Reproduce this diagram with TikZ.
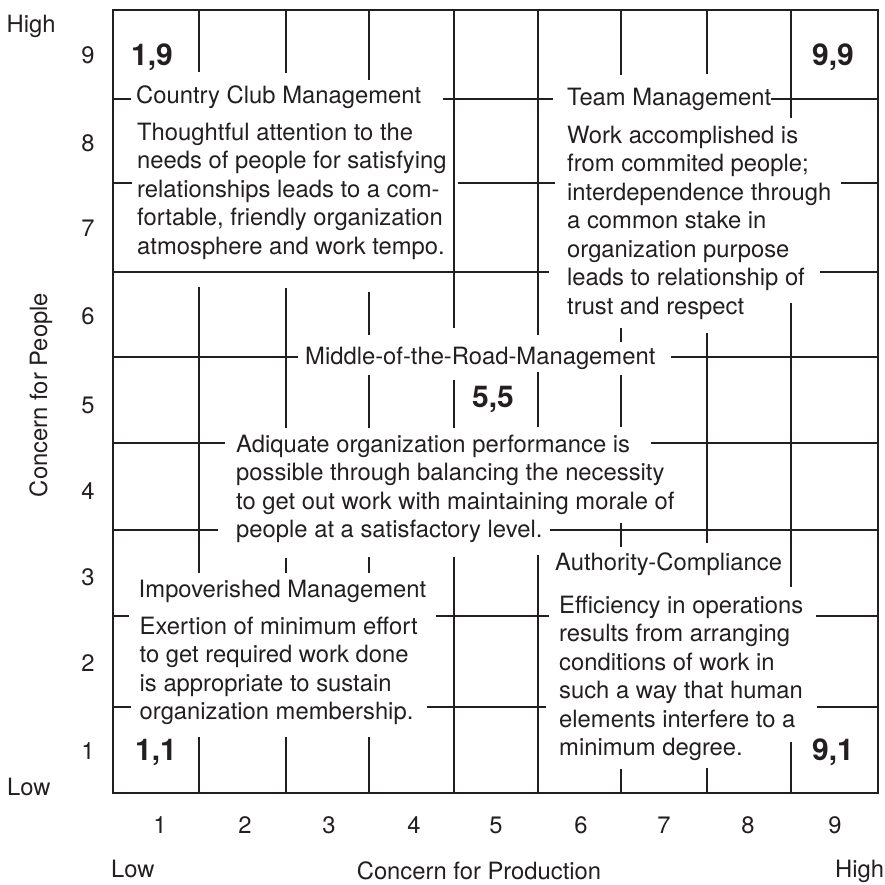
\documentclass[tikz,border=0pt]{standalone}
\usepackage{fontspec}
\setmainfont{TeX Gyre Heros}
\definecolor{ink}{HTML}{231F20}
\newcommand\blk[1]{\vtop{\baselineskip=28.5pt\lineskiplimit=-100pt\lineskip=0pt\relax #1}}
\begin{document}
\begin{tikzpicture}[x=1pt,y=-1pt,
  gridline/.style={draw=ink,line width=1.3pt},
  txt/.style={inner sep=0pt,anchor=base west,text=ink,font=\fontsize{23.8}{28.5}\selectfont},
  big/.style={inner sep=0pt,anchor=base west,text=ink,font=\fontsize{30}{36}\selectfont\bfseries},
  num/.style={inner sep=0pt,anchor=base,text=ink,font=\fontsize{23.8}{28.5}\selectfont}]
\useasboundingbox (0,0) rectangle (885,884);
% frame
\draw[gridline] (113,10) rectangle (878,793);
% vertical segments
\foreach \x/\a/\b in {199/10/72, 199/287/573, 199/737/793,
  286/10/73, 286/288/428, 286/558/573, 286/737/793,
  369/10/80, 369/292/335, 369/375/428, 369/557/573, 369/737/793,
  454/10/328, 454/380/428, 454/557/793,
  538/10/335, 538/372/427, 538/555/793,
  621/10/75, 621/328/342, 621/375/427, 621/523/547, 621/769/793,
  707/10/74, 707/333/543, 707/768/793,
  791/10/118, 791/303/587, 791/742/793}
  \draw[gridline] (\x,\a) -- (\x,\b);
% horizontal segments
\foreach \y/\a/\b in {99/113/131, 99/443/553, 99/771/878,
  183/113/132, 183/458/555, 183/841/878,
  272/113/549, 272/820/878,
  357/113/298, 357/671/878,
  443/113/225, 443/651/878,
  530/113/218, 530/550/878,
  616/113/129, 616/436/549, 616/816/878,
  707/113/131, 707/427/546, 707/817/878}
  \draw[gridline] (\a,\y) -- (\b,\y);
% corner labels
\node[big] (c19) at (131,65) {1,9};
\node[big] (c99) at (812,65) {9,9};
\node[big] (c11) at (135,760) {1,1};
\node[big] (c91) at (812,760) {9,1};
\node[big] (c55) at (472,407) {5,5};
% style titles and texts
\node[txt] (cct) at (136,103) {Country Club Management};
\node[txt] (ccb) at (137,140) {\blk{\hbox{Thoughtful attention to the}\hbox{needs of people for satisfying}\hbox{relationships leads to a com-}\hbox{fortable, friendly organization}\hbox{atmosphere and work tempo.}}};
\node[txt] (tmt) at (567,105) {Team Management};
\node[txt] (tmb) at (567,143) {\blk{\hbox{Work accomplished is}\hbox{from commited people;}\hbox{interdependence through}\hbox{a common stake in}\hbox{organization purpose}\hbox{leads to relationship of}\hbox{trust and respect}}};
\node[txt] (mrt) at (305,364) {Middle-of-the-Road-Management};
\node[txt] (mrb) at (236,452) {\blk{\hbox{Adiquate organization performance is}\hbox{possible through balancing the necessity}\hbox{to get out work with maintaining morale of}\hbox{people at a satisfactory level.}}};
\node[txt] (imt) at (138.5,597) {Impoverished Management};
\node[txt] (imb) at (139.5,634) {\blk{\hbox{Exertion of minimum effort}\hbox{to get required work done}\hbox{is appropriate to sustain}\hbox{organization membership.}}};
\node[txt] (act) at (555,570) {Authority-Compliance};
\node[txt] (acb) at (559,613) {\blk{\hbox{Efficiency in operations}\hbox{results from arranging}\hbox{conditions of work in}\hbox{such a way that human}\hbox{elements interfere to a}\hbox{minimum degree.}}};
% axis numbers
\foreach \n/\y in {9/63, 8/151, 7/236, 6/324, 5/413, 4/499, 3/585, 2/671, 1/759}
  \node[num] (ly\n) at (88,\y) {\n};
\foreach \n/\x in {1/160, 2/245, 3/329, 4/414, 5/496, 6/581, 7/664, 8/748, 9/835}
  \node[num] (lx\n) at (\x,833) {\n};
% axis labels
\node[txt] (hiy) at (6.5,32) {High};
\node[txt] (loy) at (7,795) {Low};
\node[txt] (lox) at (111,877) {Low};
\node[txt] (hix) at (835,877) {High};
\node[num] (xlab) at (479,879) {Concern for Production};
\node[num,rotate=90] (ylab) at (47,395) {Concern for People};
\end{tikzpicture}
\end{document}
